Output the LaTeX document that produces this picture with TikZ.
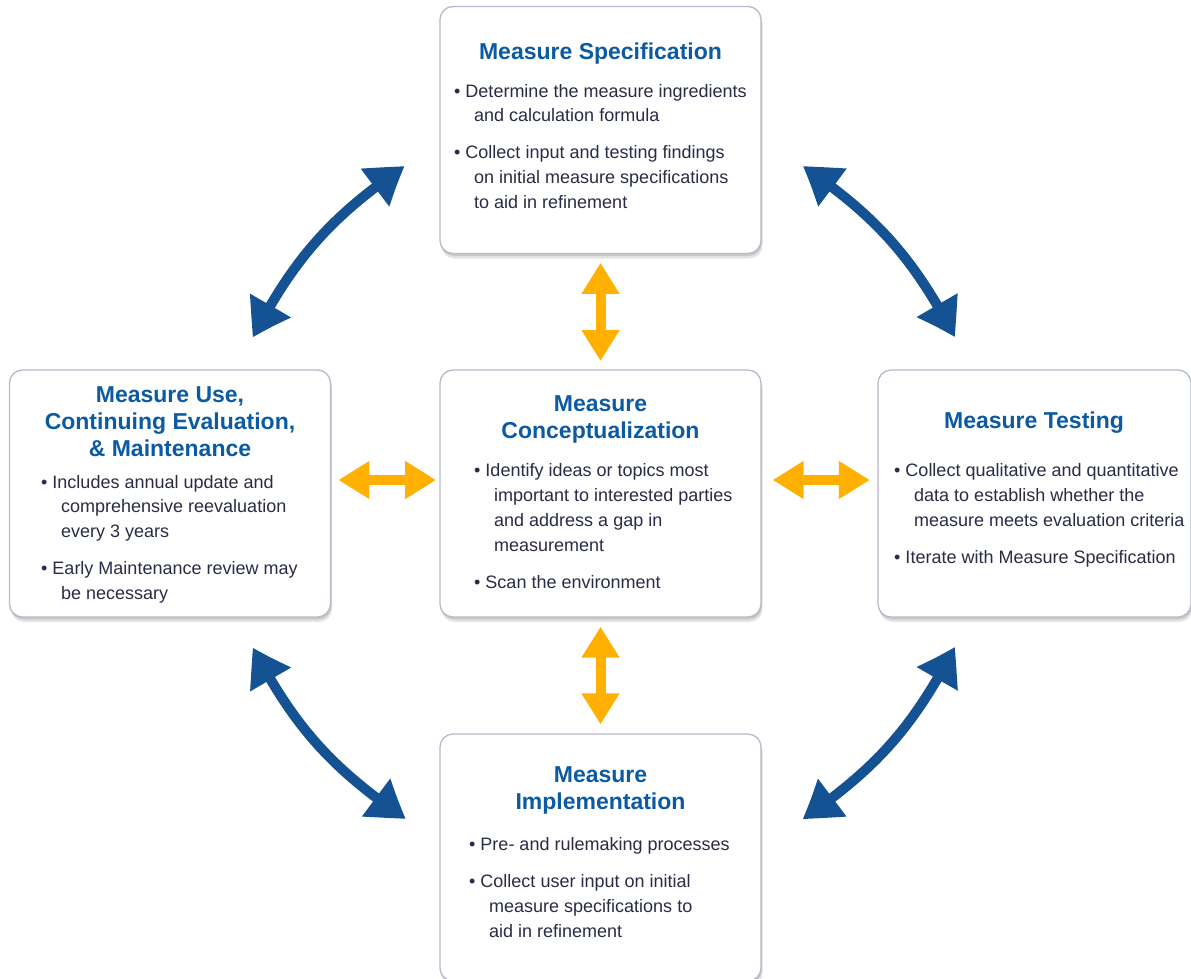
\documentclass[tikz,border=0pt]{standalone}
\usepackage{fontspec}
\setmainfont{Liberation Sans}
\usetikzlibrary{arrows.meta,shadows,calc,bending}
\definecolor{titlec}{RGB}{11,90,162}
\definecolor{bodyc}{RGB}{40,44,70}
\definecolor{arrblue}{RGB}{21,82,148}
\definecolor{arrorange}{RGB}{255,176,0}
\definecolor{boxborder}{RGB}{182,186,202}
\newcommand{\bul}{\textbullet\ }
\newcommand{\ind}{\hspace*{20pt}}
\begin{document}
\begin{tikzpicture}[x=1pt,y=1pt,
  box/.style={draw=boxborder, line width=1.3pt, rounded corners=13pt, fill=white,
    minimum width=321pt, minimum height=247pt, inner sep=0pt,
    drop shadow={shadow xshift=1.5pt, shadow yshift=-5pt, opacity=0.10, fill=black},
    drop shadow={shadow xshift=1pt, shadow yshift=-2.5pt, opacity=0.12, fill=black}},
  ttl/.style={align=center, inner sep=0pt, text=titlec, font=\fontsize{23}{27}\selectfont\bfseries},
  body/.style={align=left, inner sep=0pt, text=bodyc, font=\fontsize{18}{24.8}\selectfont},
  bluearr/.style={draw=arrblue, line width=10pt,
    {Triangle[length=38pt,width=44pt,bend]}-{Triangle[length=38pt,width=44pt,bend]}},
  orarr/.style={draw=arrorange, line width=10pt,
    {Triangle[length=31pt,width=36pt]}-{Triangle[length=31pt,width=36pt]}}
]
\useasboundingbox (0,0) rectangle (1191,-979);

% boxes
\node[box] (spec) at (600.5,-130) {};
\node[box] (use) at (170,-493.5) {};
\node[box] (concept) at (600.5,-493.5) {};
\node[box, minimum width=313pt] (test) at (1034.5,-493.5) {};
\node[box] (impl) at (600.5,-857.5) {};

% titles (base anchor = baseline of last line)
\node[ttl, anchor=base] (specT) at (600.5,-60) {Measure Specification};
\node[ttl, anchor=base] (useT) at (170,-456.7) {Measure Use,\\Continuing Evaluation,\\\& Maintenance};
\node[ttl, anchor=base] (conceptT) at (600.5,-438.3) {Measure\\Conceptualization};
\node[ttl, anchor=base] (testT) at (1034,-428.3) {Measure Testing};
\node[ttl, anchor=base] (implT) at (600.5,-809.3) {Measure\\Implementation};

% bodies (base anchor = baseline of last line)
\node[body, anchor=base west] (specB) at (454,-208.5)
  {\bul Determine the measure ingredients\\\ind and calculation formula\\[12.3pt]
   \bul Collect input and testing findings\\\ind on initial measure specifications\\\ind to aid in refinement};
\node[body, anchor=base west] (useB) at (41,-599.5)
  {\bul Includes annual update and\\\ind comprehensive reevaluation\\\ind every 3 years\\[12.3pt]
   \bul Early Maintenance review may\\\ind be necessary};
\node[body, anchor=base west] (conceptB) at (474,-588.3)
  {\bul Identify ideas or topics most\\\ind important to interested parties\\\ind and address a gap in\\\ind measurement\\[12.3pt]
   \bul Scan the environment};
\node[body, anchor=base west] (testB) at (894,-563.3)
  {\bul Collect qualitative and quantitative\\\ind data to establish whether the\\\ind measure meets evaluation criteria\\[12.3pt]
   \bul Iterate with Measure Specification};
\node[body, anchor=base west] (implB) at (469,-937.5)
  {\bul Pre- and rulemaking processes\\[12.3pt]
   \bul Collect user input on initial\\\ind measure specifications to\\\ind aid in refinement};

% orange arrows
\draw[orarr] ([yshift=13.5pt,xshift=7.3pt]use.east) -- ([yshift=13.5pt,xshift=-3.3pt]concept.west);
\draw[orarr] ([yshift=13.5pt,xshift=11pt]concept.east) -- ([yshift=13.5pt,xshift=-7.5pt]test.west);
\draw[orarr] ([yshift=-8.7pt]spec.south) -- ([yshift=8.3pt]concept.north);
\draw[orarr] ([yshift=-9pt]concept.south) -- ([yshift=9pt]impl.north);

% blue arrows
\draw[bluearr] ($(use.north)+(82.7,31.7)$) to[bend left=14] ($(spec.west)+(-34.5,-36)$);
\draw[bluearr] ($(spec.east)+(41,-36)$) to[bend left=14] ($(test.north)+(-79.5,32)$);
\draw[bluearr] ($(use.south)+(82.7,-29.7)$) to[bend right=14] ($(impl.west)+(-33.3,38.5)$);
\draw[bluearr] ($(test.south)+(-79.5,-29)$) to[bend left=14] ($(impl.east)+(40.7,38.2)$);
\end{tikzpicture}
\end{document}
